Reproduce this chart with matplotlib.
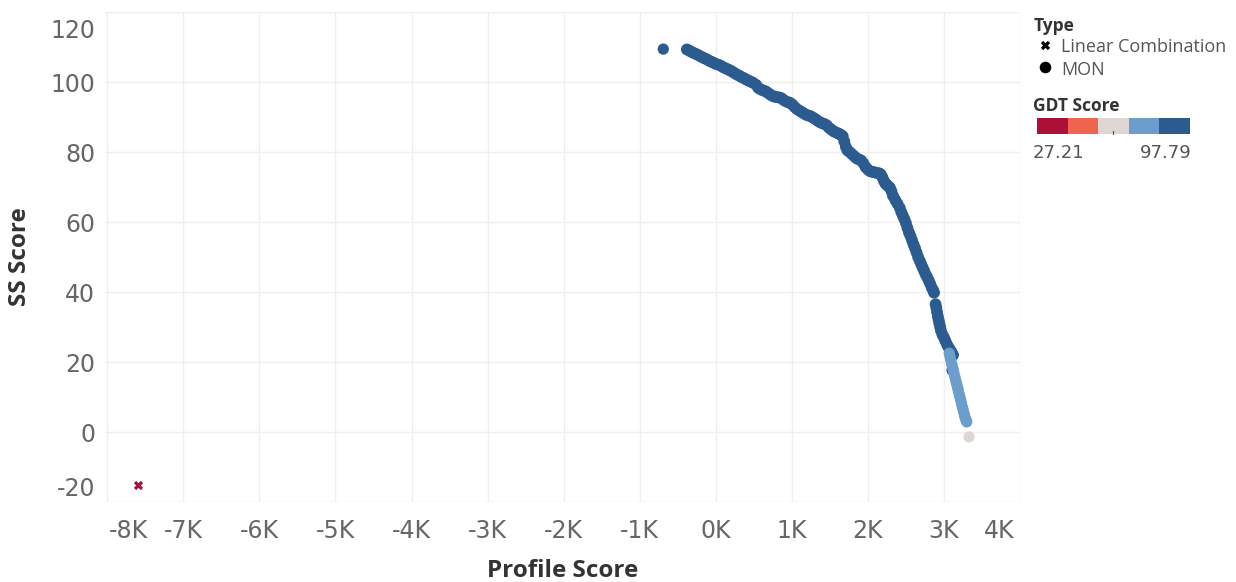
import matplotlib
matplotlib.use("Agg")
import matplotlib.pyplot as plt
import numpy as np
from matplotlib.colors import ListedColormap, BoundaryNorm
from matplotlib.patches import Rectangle
from matplotlib.ticker import FuncFormatter
import matplotlib.transforms as mtransforms

plt.rcParams["axes.unicode_minus"] = False

# MON points, main dark-blue curve
mon_dark_x = [-380,-350,-320,-290,-260,-230,-200,-170,-140,-110,-80,-50,-20,10,40,70,100,130,160,190,
              220,250,280,310,340,370,400,430,460,490,530,560,590,620,650,680,710,740,770,800,
              830,860,890,920,950,980,1010,1040,1070,1100,1130,1160,1190,1220,1250,1280,1310,1340,1370,1400,
              1430,1460,1490,1520,1550,1580,1610,1630,1650,1670,1690,1710,1730,1760,1790,1820,1850,1880,1910,1940,
              1970,2000,2030,2060,2090,2120,2150,2170,2190,2210,2230,2250,2270,2290,2310,2330,2360,2390,2420,2440,
              2460,2480,2500,2520,2540,2560,2580,2600,2620,2640,2660,2680,2700,2720,2740,2760,2780,2800,2820,2840,
              2860,2870,2890,2900,2910,2920,2930,2940,2950,2960,2980,3000,3020,3040,3060,3080,3100,3120,3110]
mon_dark_y = [109.3,109.0,108.6,108.3,108.0,107.7,107.3,107.0,106.7,106.4,106.0,105.7,105.4,105.1,104.9,104.6,104.2,103.9,103.6,103.3,
              102.9,102.5,102.1,101.8,101.4,101.1,100.7,100.4,100.1,99.8,99.2,98.3,97.9,97.6,97.4,97.0,96.5,96.1,95.8,95.7,
              95.6,95.4,94.9,94.5,94.2,94.0,93.5,92.8,92.2,91.8,91.4,91.0,90.6,90.4,90.2,89.8,89.4,88.9,88.5,88.2,
              88.0,87.6,86.9,86.4,85.9,85.6,85.3,85.1,84.8,84.5,83.0,81.5,80.5,80.0,79.4,78.8,78.2,77.9,77.6,76.8,
              75.7,75.0,74.5,74.3,74.2,74.0,73.9,73.6,72.8,71.8,71.0,70.6,70.2,69.8,68.8,67.5,66.3,65.2,64.0,62.8,
              61.8,60.8,59.7,58.3,57.0,56.0,54.8,53.6,52.5,51.3,50.0,49.0,48.0,47.0,46.0,45.0,44.2,43.3,42.3,41.2,
              40.4,39.8,36.5,35.5,34.2,33.0,32.0,31.0,30.0,29.0,27.8,27.0,26.0,25.0,24.2,23.5,22.8,22.0,17.7]
mon_dark_gdt = 95.0

# MON points, light-blue tail
mon_light_x = [3070,3080,3090,3100,3110,3120,3130,3140,3150,3160,3170,3180,3190,3200,3210,3220,3230,3240,3250,3260,3270,3280,3290,3300]
mon_light_y = [22.5,21.5,20.5,19.5,18.8,18.0,17.0,16.0,15.2,14.3,13.5,12.6,11.7,10.8,10.0,9.1,8.2,7.3,6.5,5.6,4.8,4.0,3.4,2.9]
mon_light_gdt = 76.0

# other points
mon_other_x = [-690, 3330]
mon_other_y = [109.4, -1.4]
mon_other_gdt = [97.79, 62.0]

lin_x = [-7600]
lin_y = [-15.0]
lin_gdt = [27.21]

gdt_min, gdt_max = 27.21, 97.79
bin_colors = ["#ab1039", "#ee6450", "#ddd6d2", "#6b9ecc", "#2c5c8f"]
xticks = [-8000,-7000,-6000,-5000,-4000,-3000,-2000,-1000,0,1000,2000,3000,4000]
yticks = [-20,0,20,40,60,80,100,120]

cmap = ListedColormap(bin_colors)
norm = BoundaryNorm(np.linspace(gdt_min, gdt_max, 6), cmap.N, clip=True)

W, H = 1236, 582
fig = plt.figure(figsize=(W/100, H/100), dpi=100)
ax = fig.add_axes([105/W, 1-502/H, (1020-105)/W, (502-12)/H])

ax.scatter(mon_dark_x, mon_dark_y, c=[mon_dark_gdt]*len(mon_dark_x), cmap=cmap, norm=norm, s=72, linewidths=0, zorder=3)
ax.scatter(mon_light_x, mon_light_y, c=[mon_light_gdt]*len(mon_light_x), cmap=cmap, norm=norm, s=66, linewidths=0, zorder=3)
ax.scatter(mon_other_x, mon_other_y, c=mon_other_gdt, cmap=cmap, norm=norm, s=66, linewidths=0, zorder=3)
ax.scatter(lin_x, lin_y, c=lin_gdt, cmap=cmap, norm=norm, marker="X", s=45, linewidths=0, zorder=3)

ax.set_xlim(-8030, 3950)
ax.set_ylim(-20, 120)
ax.set_xticks(xticks)
ax.set_yticks(yticks)
ax.xaxis.set_major_formatter(FuncFormatter(lambda v, p: "%dK" % round(v/1000)))
ax.grid(True, color="#efefef", linewidth=1)
ax.set_axisbelow(True)
for s in ax.spines.values():
    s.set_visible(False)
ax.tick_params(length=0, labelsize=17, labelcolor="#666666")
ax.tick_params(axis="x", pad=12)
ax.tick_params(axis="y", pad=7)

# edge labels pulled inside like tableau
xl = ax.get_xticklabels()
xl[0].set_transform(xl[0].get_transform() + mtransforms.ScaledTranslation(21/100, 0, fig.dpi_scale_trans))
xl[-1].set_transform(xl[-1].get_transform() + mtransforms.ScaledTranslation(-21/100, 0, fig.dpi_scale_trans))
yl = ax.get_yticklabels()
yl[0].set_transform(yl[0].get_transform() + mtransforms.ScaledTranslation(0, 16/100, fig.dpi_scale_trans))
yl[-1].set_transform(yl[-1].get_transform() + mtransforms.ScaledTranslation(0, -16/100, fig.dpi_scale_trans))

fig.text(20/W, 1-257/H, "SS Score", rotation=90, ha="center", va="center", fontsize=17.5,
         fontweight="bold", color="#333333", family="Open Sans")
fig.text(563/W, 1-571/H, "Profile Score", ha="center", va="center", fontsize=17.5,
         fontweight="bold", color="#333333", family="Open Sans")

# legend
lg = fig.add_axes([0, 0, 1, 1])
lg.set_xlim(0, W)
lg.set_ylim(H, 0)
lg.axis("off")
lg.text(1034, 26, "Type", fontsize=12.5, fontweight="bold", color="#333333", va="center", family="Open Sans")
lg.scatter([1045], [45], marker="X", s=45, color="black", linewidths=0)
lg.scatter([1045], [67], marker="o", s=70, color="black", linewidths=0)
lg.text(1061, 47, "Linear Combination", fontsize=13, color="#555555", va="center", family="Open Sans")
lg.text(1061, 70, "MON", fontsize=13, color="#555555", va="center", family="Open Sans")
lg.text(1033, 106, "GDT Score", fontsize=12.5, fontweight="bold", color="#333333", va="center", family="Open Sans")
for i, col in enumerate(bin_colors):
    lg.add_patch(Rectangle((1037 + i*30.6, 118), 30.6, 16, color=col, linewidth=0))
lg.plot([1113, 1113], [131, 134], color="#555555", linewidth=0.8)
lg.text(1033, 153, "%.2f" % gdt_min, fontsize=13, color="#555555", va="center", ha="left")
lg.text(1192, 153, "%.2f" % gdt_max, fontsize=13, color="#555555", va="center", ha="right")

fig.savefig("out.png", dpi=100, facecolor="white")
